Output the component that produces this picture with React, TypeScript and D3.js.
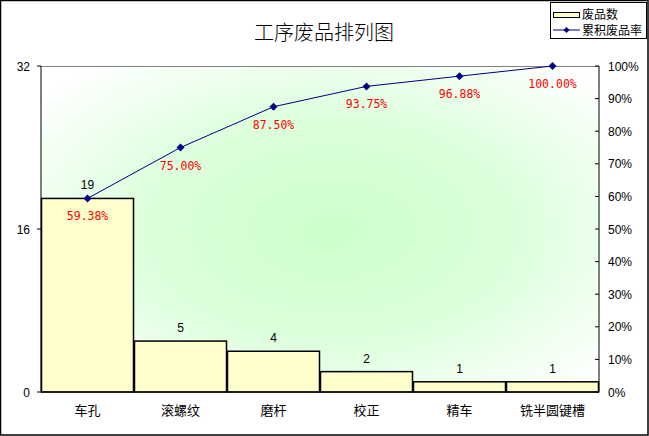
import React from "react";
import * as d3 from "d3";

const categories = ["车孔", "滚螺纹", "磨杆", "校正", "精车", "铣半圆键槽"];
const counts = [19, 5, 4, 2, 1, 1];
const cumulativePct = [59.38, 75.0, 87.5, 93.75, 96.88, 100.0];
const leftTicks = [0, 16, 32];
const rightTicks = [0, 10, 20, 30, 40, 50, 60, 70, 80, 90, 100];
const title = "工序废品排列图";
const legendLabels = ["废品数", "累积废品率"];

const W = 649;
const H = 436;
const L = 41;
const R = 599;
const T = 66;
const B = 392;

export default function App() {
  const x = d3.scaleBand<string>().domain(categories).range([L, R]).padding(0);
  const yL = d3.scaleLinear().domain([0, 32]).range([B, T]);
  const yR = d3.scaleLinear().domain([0, 100]).range([B, T]);
  const line = d3
    .line<number>()
    .x((_, i) => (x(categories[i]) as number) + x.bandwidth() / 2)
    .y((d) => yR(d));
  const sans = "Arial, 'Liberation Sans', 'Noto Sans CJK SC', sans-serif";
  const cjk = "'Noto Sans CJK SC', sans-serif";
  const mono = "'DejaVu Sans Mono', 'Liberation Mono', monospace";

  return (
    <svg
      width={W}
      height={H}
      style={{ position: "absolute", left: 0, top: 0, background: "#fff" }}
    >
      <defs>
        <radialGradient id="bg" cx="0.52" cy="0.5" r="0.66">
          <stop offset="0" stopColor="#ccffcc" />
          <stop offset="0.5" stopColor="#dcffdc" />
          <stop offset="1" stopColor="#ffffff" />
        </radialGradient>
      </defs>
      <rect x={0.5} y={0.5} width={W - 1.5} height={H - 1.5} fill="#fff" stroke="#000" strokeWidth={1.5} />
      <text x={324} y={40} textAnchor="middle" fontFamily={cjk} fontSize={20} fontWeight={300} fill="#000">
        {title}
      </text>

      <rect x={L} y={T} width={R - L} height={B - T} fill="url(#bg)" />
      <line x1={L} x2={R} y1={T + 0.5} y2={T + 0.5} stroke="#808080" />

      {counts.map((c, i) => (
        <rect
          key={i}
          x={(x(categories[i]) as number) + 0.5}
          y={yL(c)}
          width={x.bandwidth() - 1}
          height={B - yL(c)}
          fill="#ffffcc"
          stroke="#000"
          strokeWidth={1.5}
        />
      ))}
      {counts.map((c, i) => (
        <text
          key={"v" + i}
          x={(x(categories[i]) as number) + x.bandwidth() / 2}
          y={yL(c) - 9}
          textAnchor="middle"
          fontFamily={sans}
          fontSize={12}
        >
          {c}
        </text>
      ))}

      <path d={line(cumulativePct) || ""} fill="none" stroke="#000080" strokeWidth={1} />
      {cumulativePct.map((p, i) => {
        const cx = (x(categories[i]) as number) + x.bandwidth() / 2;
        const cy = yR(p);
        return (
          <g key={"p" + i}>
            <path d={`M${cx},${cy - 4}L${cx + 4},${cy}L${cx},${cy + 4}L${cx - 4},${cy}Z`} fill="#000080" />
            <text x={cx} y={cy + 22} textAnchor="middle" fontFamily={mono} fontSize={11.5} fill="#ff0000">
              {p.toFixed(2) + "%"}
            </text>
          </g>
        );
      })}

      {/* axes */}
      <line x1={L} x2={L} y1={T} y2={B} stroke="#000" />
      <line x1={R} x2={R} y1={T} y2={B} stroke="#000" />
      <line x1={L} x2={R} y1={B} y2={B} stroke="#000" />
      {leftTicks.map((t) => (
        <g key={"lt" + t}>
          <line x1={L - 4} x2={L} y1={yL(t)} y2={yL(t)} stroke="#000" />
          <text x={30} y={yL(t) + 4.5} textAnchor="end" fontFamily={sans} fontSize={12}>
            {t}
          </text>
        </g>
      ))}
      {rightTicks.map((t) => (
        <g key={"rt" + t}>
          <line x1={R - 4} x2={R} y1={yR(t)} y2={yR(t)} stroke="#000" />
          <text x={608} y={yR(t) + 4.5} textAnchor="start" fontFamily={sans} fontSize={12}>
            {t + "%"}
          </text>
        </g>
      ))}
      {categories.map((c) => (
        <text
          key={"c" + c}
          x={(x(c) as number) + x.bandwidth() / 2}
          y={415}
          textAnchor="middle"
          fontFamily={cjk}
          fontSize={13}
        >
          {c}
        </text>
      ))}

      {/* legend */}
      <rect x={550.5} y={2.5} width={96} height={36} fill="#fff" stroke="#000" />
      <rect x={553.5} y={12.5} width={26} height={5} fill="#ffffcc" stroke="#000" />
      <text x={582} y={19} fontFamily={cjk} fontSize={12}>
        {legendLabels[0]}
      </text>
      <line x1={553} x2={580} y1={30} y2={30} stroke="#000080" />
      <path d="M566.5,27L569.5,30L566.5,33L563.5,30Z" fill="#000080" />
      <text x={582} y={34.5} fontFamily={cjk} fontSize={12}>
        {legendLabels[1]}
      </text>
    </svg>
  );
}
